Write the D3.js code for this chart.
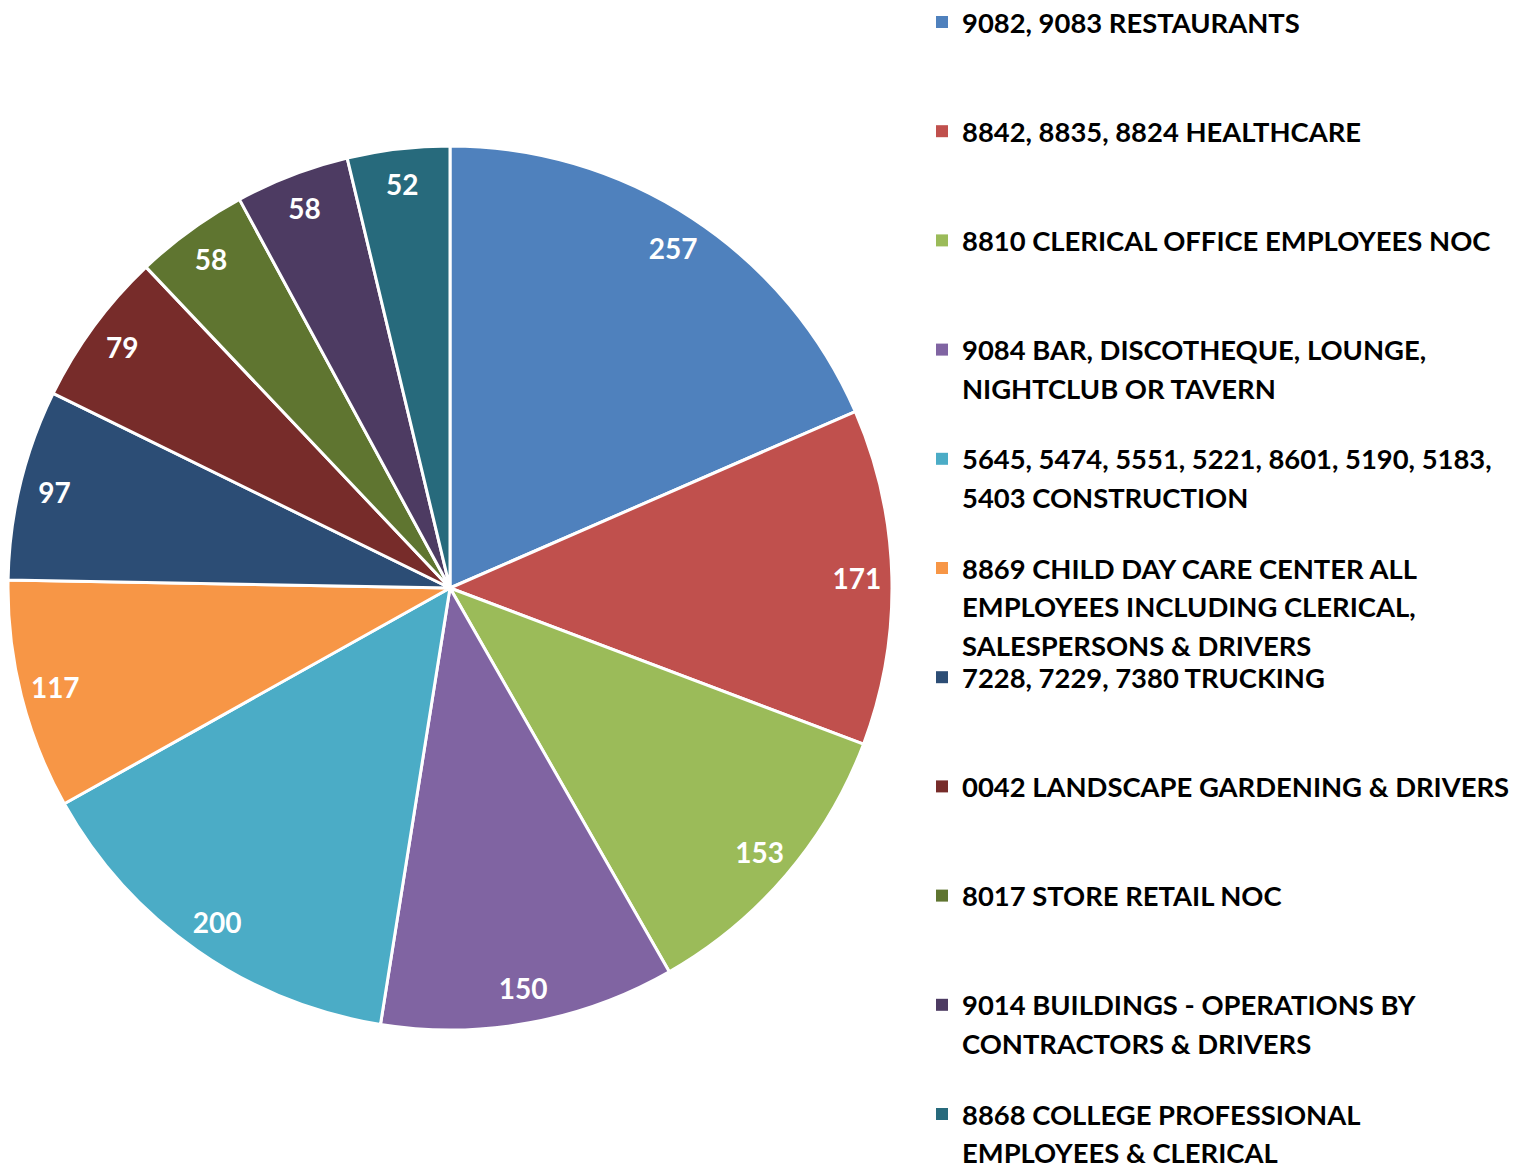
<!DOCTYPE html>
<html>
<head>
<meta charset="utf-8">
<script src="https://cdn.jsdelivr.net/npm/d3@7"></script>
<style>
  html, body { margin: 0; padding: 0; background: #fff; }
  svg { display: block; }
  text { font-family: Lato, "Open Sans", sans-serif; font-weight: 700; }
</style>
</head>
<body>
<svg id="chart" width="1515" height="1168"></svg>
<script>
// Class codes and claim counts
const categories = [
  ["9082, 9083 RESTAURANTS"],
  ["8842, 8835, 8824 HEALTHCARE"],
  ["8810 CLERICAL OFFICE EMPLOYEES NOC"],
  ["9084 BAR, DISCOTHEQUE, LOUNGE,", "NIGHTCLUB OR TAVERN"],
  ["5645, 5474, 5551, 5221, 8601, 5190, 5183,", "5403 CONSTRUCTION"],
  ["8869 CHILD DAY CARE CENTER ALL", "EMPLOYEES INCLUDING CLERICAL,", "SALESPERSONS & DRIVERS"],
  ["7228, 7229, 7380 TRUCKING"],
  ["0042 LANDSCAPE GARDENING & DRIVERS"],
  ["8017 STORE RETAIL NOC"],
  ["9014 BUILDINGS - OPERATIONS BY", "CONTRACTORS & DRIVERS"],
  ["8868 COLLEGE PROFESSIONAL", "EMPLOYEES & CLERICAL"]
];
const values = [257, 171, 153, 150, 200, 117, 97, 79, 58, 58, 52];
const colors = ["#4F81BD", "#C0504D", "#9BBB59", "#8064A2", "#4BACC6", "#F79646",
                "#2C4D75", "#772C2A", "#5F7530", "#4D3B62", "#276A7C"];

const svg = d3.select("#chart");
const cx = 450, cy = 588, radius = 442, labelRadius = 407;

const pie = d3.pie().sort(null).value(d => d)(values);
const arc = d3.arc().innerRadius(0).outerRadius(radius);
const labelArc = d3.arc().innerRadius(labelRadius).outerRadius(labelRadius);
const color = d3.scaleOrdinal().domain(d3.range(values.length)).range(colors);

const g = svg.append("g").attr("transform", `translate(${cx},${cy})`);

g.selectAll("path.slice")
  .data(pie)
  .join("path")
  .attr("class", "slice")
  .attr("d", arc)
  .attr("fill", (d, i) => color(i))
  .attr("stroke", "#fff")
  .attr("stroke-width", 3)
  .attr("stroke-linejoin", "round");

g.selectAll("text.value")
  .data(pie)
  .join("text")
  .attr("class", "value")
  .attr("transform", d => `translate(${labelArc.centroid(d)})`)
  .attr("text-anchor", "middle")
  .attr("dominant-baseline", "central")
  .attr("fill", "#fff")
  .attr("font-size", 28)
  .text(d => d.data);

// Legend: fixed pitch per entry, wrapped lines stacked below the first
const legendX = 936, legendTop = 22, pitch = 109.2, lineH = 38.5;
const legend = svg.append("g");
const items = legend.selectAll("g.item")
  .data(categories)
  .join("g")
  .attr("class", "item")
  .attr("transform", (d, i) => `translate(${legendX},${legendTop + i * pitch})`);

items.append("rect")
  .attr("x", 0).attr("y", -6)
  .attr("width", 12).attr("height", 12)
  .attr("fill", (d, i) => color(i));

items.each(function(lines) {
  const t = d3.select(this).append("text")
    .attr("x", 26)
    .attr("fill", "#000")
    .attr("font-size", 27.4);
  lines.forEach((line, j) => {
    t.append("tspan")
      .attr("x", 26)
      .attr("y", j * lineH)
      .attr("dominant-baseline", "central")
      .text(line);
  });
});
</script>
</body>
</html>
